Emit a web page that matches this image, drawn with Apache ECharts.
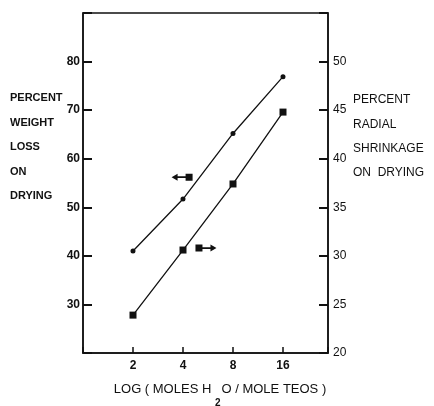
<!DOCTYPE html>
<html>
<head>
<meta charset="utf-8">
<script src="https://cdn.jsdelivr.net/npm/echarts@6/dist/echarts.min.js"></script>
<style>
  html, body { margin: 0; padding: 0; background: #fff; }
  #chart { width: 434px; height: 406px; }
</style>
</head>
<body>
<div id="chart"></div>
<script>
// Data
const molesWater = [2, 4, 8, 16];
const weightLoss = [41, 51.7, 65.2, 76.9];        // left axis, %
const radialShrinkage = [23.9, 30.6, 37.4, 44.8]; // right axis, %

// Tick labels
const xTickLabels = [2, 4, 8, 16];
const leftTickLabels = [30, 40, 50, 60, 70, 80];
const rightTickLabels = [20, 25, 30, 35, 40, 45, 50];

// Arrow annotations pointing to each series' axis (x, y in data units)
const weightArrowAt = [3.95, 56.2];
const shrinkArrowAt = [5.5, 30.8];

const FONT = '"Liberation Sans", Arial, sans-serif';
const INK = '#111';

const arrowLeft = 'path://M0,4 L6,0.5 L6,3.2 L14,3.2 L14,0.5 L21,0.5 L21,7.5 L14,7.5 L14,4.8 L6,4.8 L6,7.5 Z';
const arrowRight = 'path://M21,4 L15,0.5 L15,3.2 L7,3.2 L7,0.5 L0,0.5 L0,7.5 L7,7.5 L7,4.8 L15,4.8 L15,7.5 Z';

const chart = echarts.init(document.getElementById('chart'), null, { renderer: 'canvas' });

chart.setOption({
  animation: false,
  backgroundColor: '#fff',
  textStyle: { fontFamily: FONT, color: INK },
  grid: {
    left: 83, top: 13, right: 106, bottom: 53,
    show: true, borderColor: INK, borderWidth: 1.5, backgroundColor: 'transparent'
  },
  graphic: [
    {
      type: 'text', left: 10, top: 86,
      style: {
        text: 'PERCENT\nWEIGHT\nLOSS\nON\nDRYING',
        font: 'bold 11px ' + FONT, lineHeight: 24.5, fill: INK
      }
    },
    {
      type: 'text', left: 353, top: 88,
      style: {
        text: 'PERCENT\nRADIAL\nSHRINKAGE\nON  DRYING',
        font: '12px ' + FONT, lineHeight: 24.3, fill: INK
      }
    },
    {
      // x axis title with the subscript 2 of H2O under the gap
      type: 'text', x: 220, y: 389,
      style: {
        text: 'LOG ( MOLES H {s|2}O / MOLE TEOS )',
        font: '13px ' + FONT, fill: INK, align: 'center', verticalAlign: 'middle',
        rich: { s: { fontSize: 10, fontWeight: 'bold', fontFamily: FONT, padding: [28, 1, 0, 0], fill: INK } }
      }
    }
  ],
  xAxis: {
    type: 'log',
    logBase: 2,
    min: 1,
    max: 29.86,
    axisLine: { lineStyle: { color: INK, width: 1.5 } },
    axisTick: { inside: true, length: 6, lineStyle: { color: INK, width: 1.5 } },
    axisLabel: {
      margin: 7, fontSize: 12, fontWeight: 'bold', color: INK, fontFamily: FONT,
      formatter: v => xTickLabels.includes(Math.round(v)) ? String(Math.round(v)) : ''
    },
    splitLine: { show: false },
    minorTick: { show: false }
  },
  yAxis: [
    {
      type: 'value', min: 20, max: 90, interval: 10, position: 'left',
      axisLine: { show: true, lineStyle: { color: INK, width: 1.5 } },
      axisTick: { inside: true, length: 9, lineStyle: { color: INK, width: 2 } },
      axisLabel: {
        margin: 3, fontSize: 12, fontWeight: 'bold', color: INK, fontFamily: FONT,
        formatter: v => leftTickLabels.includes(v) ? String(v) : ''
      },
      splitLine: { show: false }
    },
    {
      type: 'value', min: 20, max: 55, interval: 5, position: 'right',
      axisLine: { show: true, lineStyle: { color: INK, width: 1.5 } },
      axisTick: { inside: true, length: 9, lineStyle: { color: INK, width: 2 } },
      axisLabel: {
        margin: 5, fontSize: 12, color: INK, fontFamily: FONT,
        formatter: v => rightTickLabels.includes(v) ? String(v) : ''
      },
      splitLine: { show: false }
    }
  ],
  series: [
    {
      name: 'Weight loss',
      type: 'line',
      yAxisIndex: 0,
      data: molesWater.map((x, i) => [x, weightLoss[i]]),
      symbol: 'circle',
      symbolSize: 5,
      itemStyle: { color: INK },
      lineStyle: { color: INK, width: 1.3 },
      markPoint: {
        symbol: arrowLeft,
        symbolSize: [21, 7],
        symbolKeepAspect: false,
        itemStyle: { color: INK },
        label: { show: false },
        data: [{ coord: weightArrowAt }]
      }
    },
    {
      name: 'Radial shrinkage',
      type: 'line',
      yAxisIndex: 1,
      data: molesWater.map((x, i) => [x, radialShrinkage[i]]),
      symbol: 'rect',
      symbolSize: 7,
      itemStyle: { color: INK },
      lineStyle: { color: INK, width: 1.3 },
      markPoint: {
        symbol: arrowRight,
        symbolSize: [21, 7],
        symbolKeepAspect: false,
        itemStyle: { color: INK },
        label: { show: false },
        data: [{ coord: shrinkArrowAt }]
      }
    }
  ]
});
</script>
</body>
</html>
